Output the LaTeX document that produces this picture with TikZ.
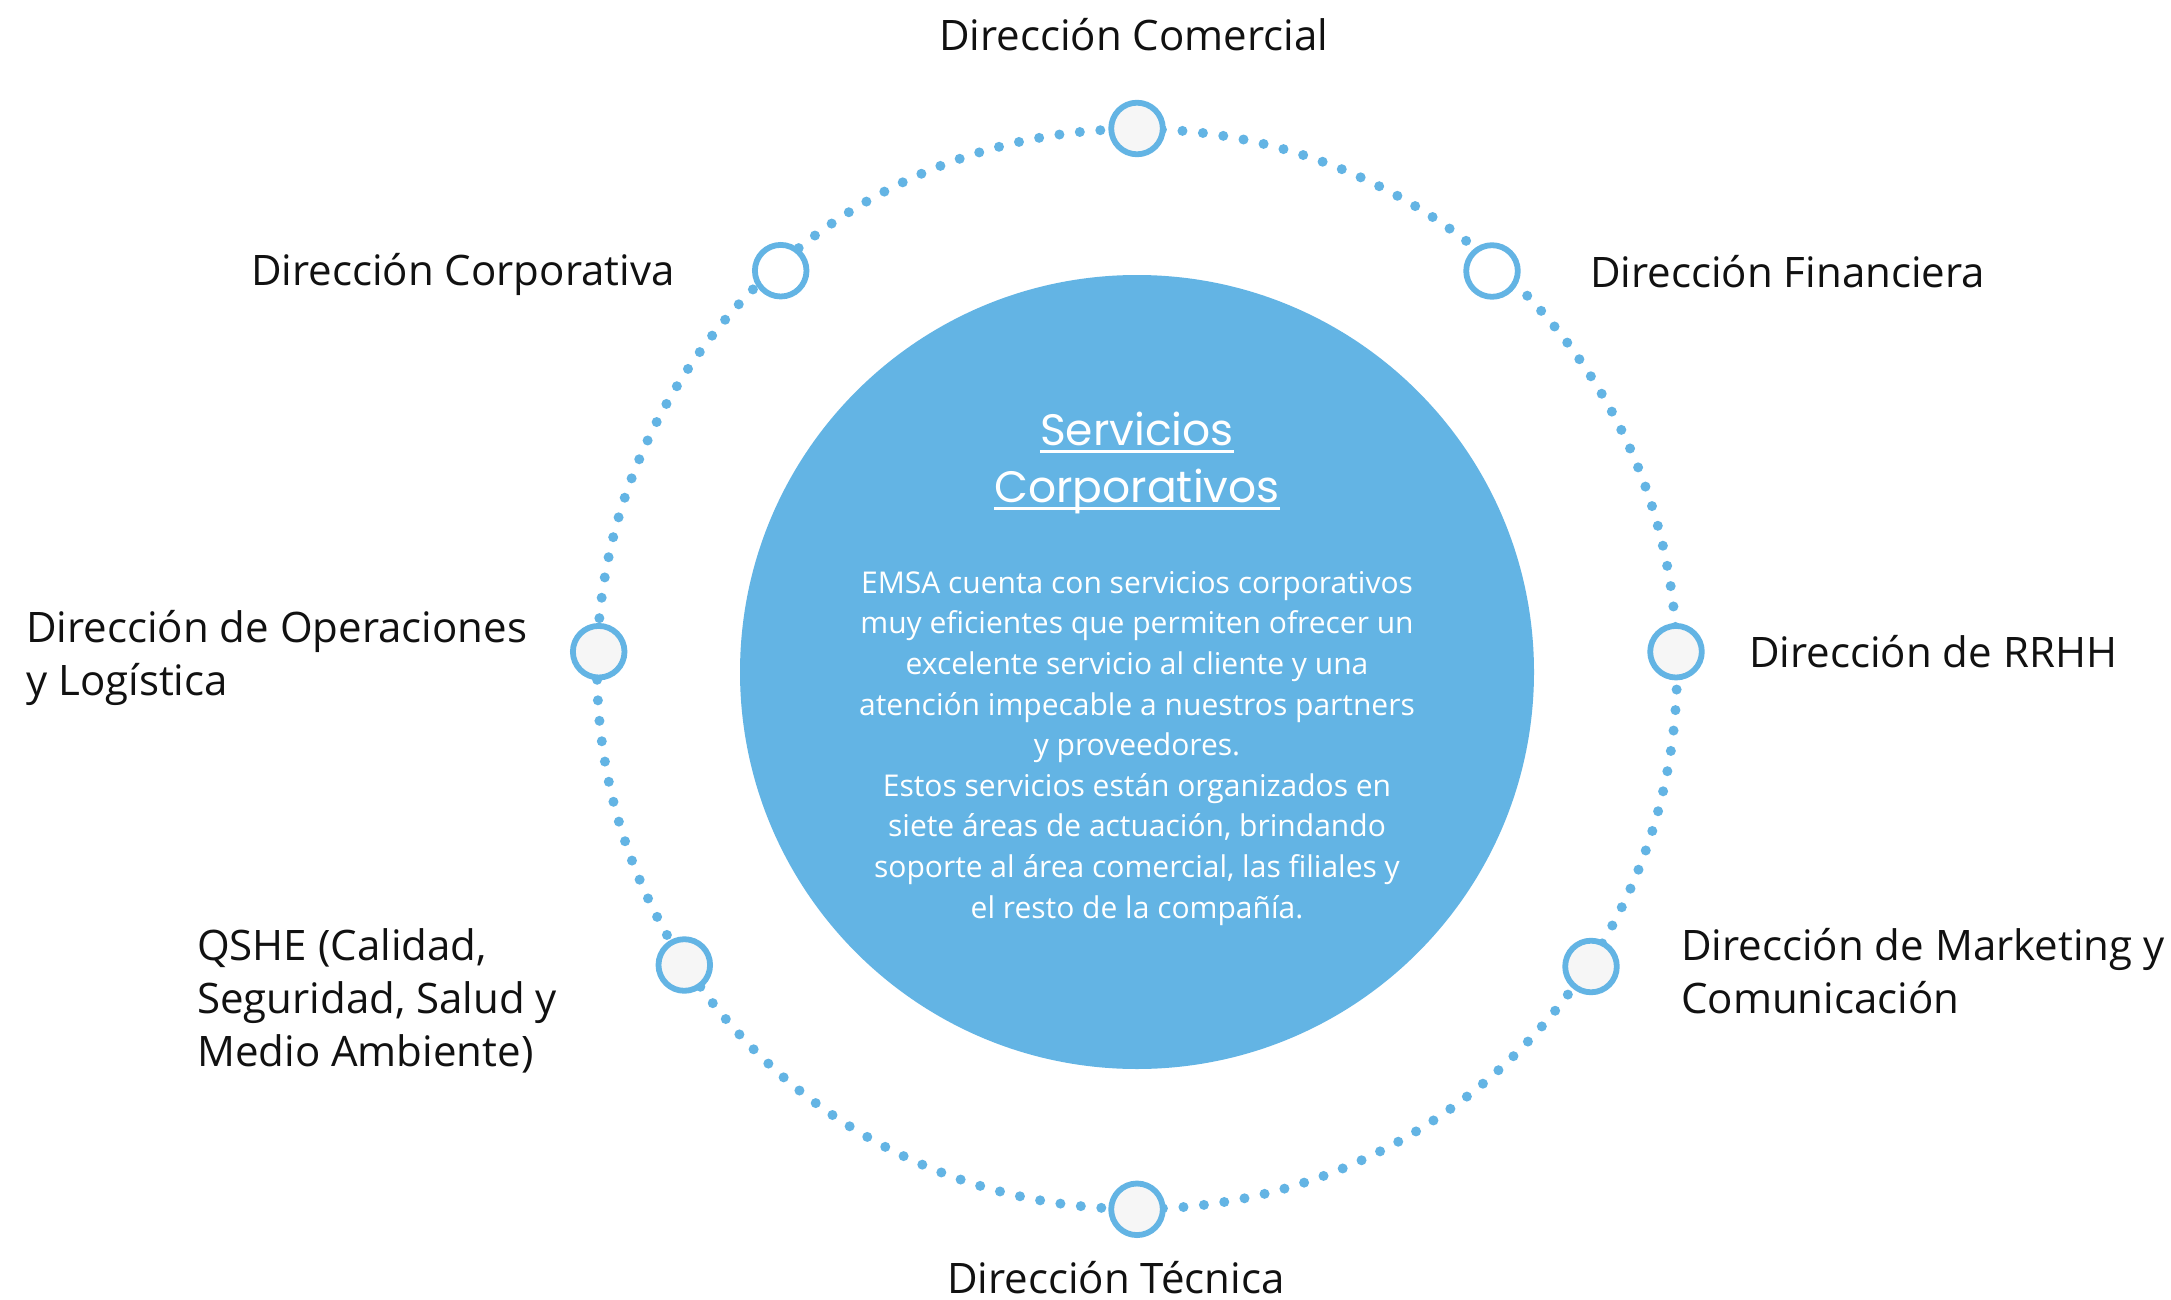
\documentclass[tikz,border=0pt]{standalone}
\usepackage{fontspec}
\setmainfont{Open Sans}
\newfontfamily\titlefont{Poppins}
\definecolor{ringblue}{HTML}{63B4E4}
\definecolor{hubgray}{HTML}{F6F6F6}
\definecolor{labelink}{HTML}{111111}
\begin{document}
\begin{tikzpicture}[x=1pt,y=-1pt,
  hub/.style={draw=ringblue, line width=5.8pt, circle, minimum size=51.6pt, inner sep=0pt, fill=hubgray},
  hubwhite/.style={hub, fill=white},
  lab/.style={inner sep=0pt, anchor=base west, align=left, text=labelink,
    font=\fontsize{42}{52.6}\selectfont},
  ttl/.style={inner sep=0pt, anchor=base, text=white, font=\titlefont\fontsize{44}{56}\selectfont},
  body/.style={inner sep=0pt, align=center, text=white, font=\fontsize{30}{40.6}\selectfont}]
\useasboundingbox (0,0) rectangle (2171,1300);
\fill[white] (0,0) rectangle (2171,1300);
% dotted ring
\coordinate (ringc) at (1137,669);
\draw[ringblue, line width=10pt, line cap=round, dash pattern=on 0pt off 20.56pt] (ringc) circle[radius=540];
% central disc
\node[circle, fill=ringblue, minimum size=794pt, inner sep=0pt] (core) at (1137,672) {};
% hubs
\node[hub] (h1) at (1137,128.5) {};
\node[hubwhite] (h2) at (1492,271) {};
\node[hub] (h3) at (1676,651.7) {};
\node[hub] (h4) at (1591,966.5) {};
\node[hub] (h5) at (1137,1209.3) {};
\node[hub] (h6) at (684.3,965) {};
\node[hub] (h7) at (598.7,651.7) {};
\node[hubwhite] (h8) at (780.7,270.7) {};
% labels (base = baseline of last line)
\node[lab] (l1) at (939,51) {Dirección Comercial};
\node[lab] (l2) at (1590,287) {Dirección Financiera};
\node[lab] (l3) at (1749,667) {Dirección de RRHH};
\node[lab] (l4) at (1681,1013.5) {Dirección de Marketing y\\Comunicación};
\node[lab] (l5) at (947,1293) {Dirección Técnica};
\node[lab] (l6) at (197,1066) {QSHE (Calidad,\\Seguridad, Salud y\\Medio Ambiente)};
\node[lab] (l7) at (26,695) {Dirección de Operaciones\\y Logística};
\node[lab] (l8) at (251,285) {Dirección Corporativa};
% title
\node[ttl] (t1) at (1137,445) {Servicios};
\node[ttl] (t2) at (1137,502) {Corporativos};
\draw[white, line width=3pt] ([yshift=-6pt]t1.base west) -- ([yshift=-6pt]t1.base east);
\draw[white, line width=3pt] ([yshift=-6pt]t2.base west) -- ([yshift=-6pt]t2.base east);
% body
\node[body, anchor=base] (txt) at (1137,918) {EMSA cuenta con servicios corporativos\\
muy eficientes que permiten ofrecer un\\
excelente servicio al cliente y una\\
atención impecable a nuestros partners\\
y proveedores.\\
Estos servicios están organizados en\\
siete áreas de actuación, brindando\\
soporte al área comercial, las filiales y\\
el resto de la compañía.};
\end{tikzpicture}
\end{document}
